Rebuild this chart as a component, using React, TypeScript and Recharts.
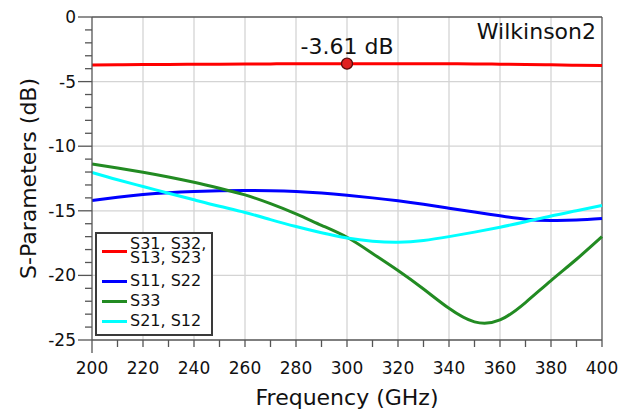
import { CartesianGrid, Label, Legend, Line, LineChart, ReferenceDot, ReferenceLine, XAxis, YAxis } from 'recharts';

// frequency points (GHz)
const frequency = [200, 210, 220, 230, 240, 250, 260, 270, 280, 290, 300, 310, 320, 330, 340, 350, 360, 370, 380, 390, 400];

// S-parameter traces (dB)
const s31 = [-3.72, -3.7, -3.68, -3.67, -3.66, -3.65, -3.64, -3.63, -3.62, -3.61, -3.61, -3.61, -3.61, -3.61, -3.62, -3.63, -3.65, -3.67, -3.7, -3.73, -3.76];
const s11 = [-14.2, -13.95, -13.74, -13.6, -13.51, -13.45, -13.43, -13.45, -13.51, -13.63, -13.8, -14.0, -14.23, -14.5, -14.8, -15.1, -15.39, -15.65, -15.75, -15.72, -15.6];
const s33 = [-11.37, -11.68, -12.01, -12.38, -12.79, -13.25, -13.77, -14.45, -15.24, -16.12, -17.05, -18.3, -19.62, -21.05, -22.55, -23.6, -23.45, -22.1, -20.4, -18.75, -17.0];
const s21 = [-12.04, -12.6, -13.12, -13.64, -14.15, -14.65, -15.13, -15.68, -16.22, -16.7, -17.1, -17.35, -17.43, -17.3, -17.0, -16.65, -16.27, -15.85, -15.4, -15.0, -14.59];

const seriesKeys = ['s31', 's11', 's33', 's21'];
const seriesNames = ['S31, S32, S13, S23', 'S11, S22', 'S33', 'S21, S12'];
const seriesColors = ['#ff0000', '#0000ff', '#228b22', '#00ffff'];

// axes
const xTicks = [200, 210, 220, 230, 240, 250, 260, 270, 280, 290, 300, 310, 320, 330, 340, 350, 360, 370, 380, 390, 400];
const yTicks = [-25, -24, -23, -22, -21, -20, -19, -18, -17, -16, -15, -14, -13, -12, -11, -10, -9, -8, -7, -6, -5, -4, -3, -2, -1, 0];
const xGrid = [220, 240, 260, 280, 300, 320, 340, 360, 380];
const yGrid = [-20, -15, -10, -5];

// marker + annotation
const markerFreq = 300;
const markerValue = -3.61;
const markerText = '-3.61 dB';
const plotTitle = 'Wilkinson2';

const FONT = '"DejaVu Sans", Verdana, sans-serif';
const AXIS = '#555555';

const data = frequency.map((f, i) => ({ f, s31: s31[i], s11: s11[i], s33: s33[i], s21: s21[i] }));

const XTick = (props: any) => {
  const { x, y, payload } = props;
  const v = payload.value;
  const len = v === xTicks[0] ? 13 : 7;
  return (
    <g>
      <line x1={x} x2={x} y1={y} y2={y + len} stroke={AXIS} strokeWidth={1.3} />
      {v % 20 === 0 && (
        <text x={x} y={y + 34} textAnchor="middle" fontSize={17} fontFamily={FONT} fill="#111">
          {v}
        </text>
      )}
    </g>
  );
};

const YTick = (props: any) => {
  const { x, y, payload } = props;
  const v = payload.value;
  const major = v % 5 === 0;
  return (
    <g>
      <line x1={x} x2={x - (major ? 14 : 7)} y1={y} y2={y} stroke={AXIS} strokeWidth={1.3} />
      {major && (
        <text x={x - 16} y={y + 6} textAnchor="end" fontSize={17} fontFamily={FONT} fill="#111">
          {v}
        </text>
      )}
    </g>
  );
};

const XTitle = ({ viewBox }: any) => (
  <text x={viewBox.x + viewBox.width / 2} y={viewBox.y + 65} textAnchor="middle" fontSize={22} fontFamily={FONT} fill="#111">
    Frequency (GHz)
  </text>
);

const YTitle = ({ viewBox }: any) => {
  const cx = viewBox.x + 36;
  const cy = viewBox.y + viewBox.height / 2;
  return (
    <text x={cx} y={cy} transform={`rotate(-90, ${cx}, ${cy})`} textAnchor="middle" fontSize={22} fontFamily={FONT} fill="#111">
      S-Parameters (dB)
    </text>
  );
};

// legend drawn in series order (recharts would sort it by name)
const LegendBox = () => (
  <div
    style={{
      width: 118,
      boxSizing: 'border-box',
      border: '2px solid #3a3a3a',
      background: '#fff',
      padding: '3px 0 3px 5px',
      fontFamily: FONT,
      fontSize: 16,
      color: '#111',
    }}
  >
    {seriesNames.map((name, i) => (
      <div
        key={name}
        style={{
          display: 'flex',
          alignItems: 'center',
          height: i === 0 ? 28 : 20,
          lineHeight: i === 0 ? '14px' : '20px',
          marginBottom: i === 0 ? 6 : 0,
        }}
      >
        <span style={{ width: 25, height: 3, background: seriesColors[i], marginRight: 3, flex: 'none' }} />
        <span style={{ width: 80, flex: 'none', whiteSpace: 'normal' }}>{name}</span>
      </div>
    ))}
  </div>
);

export default function App() {
  return (
    <div style={{ width: 633, height: 411, background: '#fff' }}>
      <style>{'body{margin:0}'}</style>
      <LineChart width={633} height={411} data={data} margin={{ top: 17, right: 31, bottom: 0, left: 0 }}>
        <CartesianGrid horizontalValues={yGrid} verticalValues={xGrid} stroke="#d4d4d4" strokeWidth={1.3} />
        <XAxis
          dataKey="f"
          type="number"
          domain={[200, 400]}
          ticks={xTicks}
          interval={0}
          height={71}
          tickSize={0}
          tickMargin={0}
          tickLine={false}
          tick={<XTick />}
          axisLine={{ stroke: AXIS, strokeWidth: 1.3 }}
        >
          <Label content={<XTitle />} />
        </XAxis>
        <YAxis
          type="number"
          domain={[-25, 0]}
          ticks={yTicks}
          interval={0}
          width={92}
          tickSize={0}
          tickMargin={0}
          tickLine={false}
          tick={<YTick />}
          axisLine={{ stroke: AXIS, strokeWidth: 1.3 }}
        >
          <Label content={<YTitle />} />
        </YAxis>
        <ReferenceLine
          y={0}
          stroke={AXIS}
          strokeWidth={1.3}
          label={{ value: plotTitle, position: 'insideTopRight', offset: 6, fontSize: 22, fontFamily: FONT, fill: '#111' }}
        />
        <ReferenceLine x={400} stroke={AXIS} strokeWidth={1.3} />
        <Legend
          layout="vertical"
          align="center"
          verticalAlign="middle"
          content={<LegendBox />}
          wrapperStyle={{ left: 95, top: 232, width: 118 }}
        />
        {seriesKeys.map((k, i) => (
          <Line
            key={k}
            dataKey={k}
            name={seriesNames[i]}
            stroke={seriesColors[i]}
            strokeWidth={3}
            type="natural"
            dot={false}
            activeDot={false}
            isAnimationActive={false}
          />
        ))}
        <ReferenceDot
          x={markerFreq}
          y={markerValue}
          r={5.5}
          fill="#e02020"
          stroke="#5a0a0a"
          strokeWidth={1.3}
          label={{ value: markerText, position: 'top', offset: 4, fontSize: 22, fontFamily: FONT, fill: '#111' }}
        />
      </LineChart>
    </div>
  );
}
